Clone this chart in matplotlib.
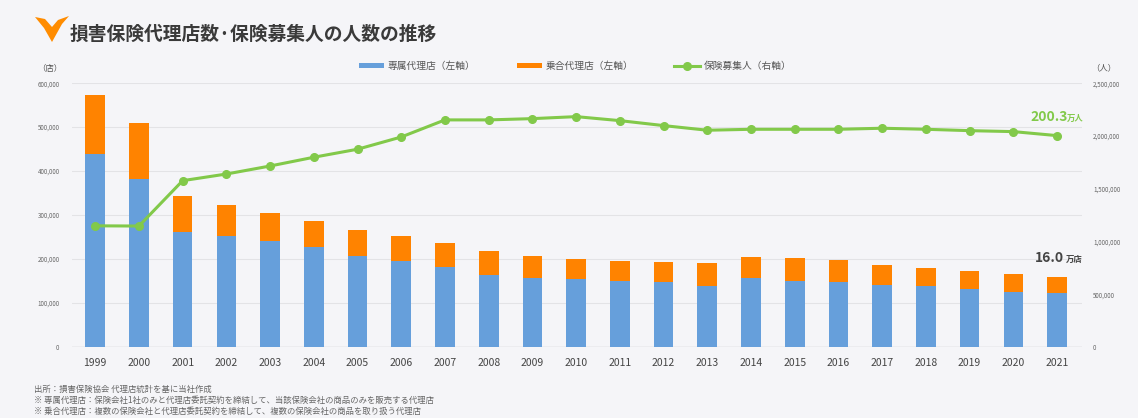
import numpy as np
import matplotlib.pyplot as plt
from matplotlib.patches import Polygon
from matplotlib.ticker import FuncFormatter

plt.rcParams['font.family'] = ['Noto Sans CJK JP', 'DejaVu Sans']

years = ['1999', '2000', '2001', '2002', '2003', '2004', '2005', '2006', '2007', '2008', '2009',
         '2010', '2011', '2012', '2013', '2014', '2015', '2016', '2017', '2018', '2019', '2020', '2021']
# 専属代理店 (店)
exclusive = [439000, 382000, 261000, 253000, 241000, 227000, 207000, 195000, 182000, 164000, 157000,
             154000, 150000, 147000, 138000, 156000, 151000, 147000, 142000, 138000, 131000, 125000, 122000]
# 代理店合計 (店)
total = [572000, 510000, 343000, 323000, 305000, 287000, 267000, 252000, 236000, 218000, 208000,
         201000, 196000, 193000, 191000, 204000, 202000, 197000, 187000, 180000, 172000, 165000, 160000]
multi = [t - e for t, e in zip(total, exclusive)]
# 保険募集人 (人)
agents = [1148000, 1146000, 1576000, 1639000, 1715000, 1798000, 1874000, 1990000, 2152000, 2152000, 2164000,
          2183000, 2145000, 2098000, 2054000, 2063000, 2063000, 2063000, 2073000, 2063000, 2050000, 2041000, 2003000]

blue = '#669fdb'
orange = '#ff8300'
green = '#82c94a'
bg = '#f5f5f8'

fig = plt.figure(figsize=(11.38, 4.18), dpi=100, facecolor=bg)
ax = fig.add_axes([0.0633, 0.170, 0.8875, 0.631], facecolor=bg)
x = np.arange(len(years))

ax.bar(x, exclusive, width=0.45, color=blue, label='専属代理店（左軸）', zorder=2)
ax.bar(x, multi, width=0.45, bottom=exclusive, color=orange, label='乗合代理店（左軸）', zorder=2)
ax.set_xlim(-0.53, 22.57)
ax.set_ylim(0, 600000)
ax.set_yticks(np.arange(0, 600001, 100000))
ax.yaxis.set_major_formatter(FuncFormatter(lambda v, p: f'{int(v):,}'))
ax.grid(axis='y', color='#e3e3e6', linewidth=0.8, zorder=0)
ax.axhline(0, color='#cfcfd3', linewidth=1, zorder=1)
ax.set_xticks(x)
ax.set_xticklabels(years, fontsize=7.5, color='#444444')
ax.tick_params(axis='x', length=0, pad=8)
ax.tick_params(axis='y', length=0, labelsize=4.5, labelcolor='#666666', pad=9)
for s in ax.spines.values():
    s.set_visible(False)

ax2 = ax.twinx()
ax2.plot(x, agents, color=green, linewidth=2.2, marker='o', markersize=5.5,
         label='保険募集人（右軸）', zorder=3)
ax2.set_ylim(0, 2500000)
ax2.set_yticks(np.arange(0, 2500001, 500000))
ax2.yaxis.set_major_formatter(FuncFormatter(lambda v, p: f'{int(v):,}'))
ax2.tick_params(axis='y', length=0, labelsize=4.5, labelcolor='#666666', pad=8)
for s in ax2.spines.values():
    s.set_visible(False)

# legend
h1, l1 = ax.get_legend_handles_labels()
h2, l2 = ax2.get_legend_handles_labels()
fig.legend(h1 + h2, l1 + l2, loc='center', bbox_to_anchor=(575 / 1138, 1 - 66 / 418), ncol=3,
           frameon=False, fontsize=7, handlelength=2.6, handleheight=0.35,
           columnspacing=4.2, handletextpad=0.4, labelcolor='#555555')

# axis units
fig.text(50 / 1138, 1 - 68 / 418, '（店）', fontsize=6, color='#555555', ha='center', va='center')
fig.text(1104 / 1138, 1 - 68 / 418, '（人）', fontsize=6, color='#555555', ha='center', va='center')

# end labels
fig.text(1030 / 1138, 1 - 117 / 418, '200.3', fontsize=10, color=green, fontweight='bold',
         ha='left', va='center')
fig.text(1067 / 1138, 1 - 118 / 418, '万人', fontsize=6, color=green, fontweight='bold',
         ha='left', va='center')
fig.text(1035 / 1138, 1 - 258 / 418, '16.0', fontsize=10, color='#444444', fontweight='bold',
         ha='left', va='center')
fig.text(1066 / 1138, 1 - 259 / 418, '万店', fontsize=6, color='#444444', fontweight='bold',
         ha='left', va='center')

# title and logo
fig.text(70 / 1138, 1 - 34 / 418, '損害保険代理店数·保険募集人の人数の推移', fontsize=13.5,
         fontweight='bold', color='#3a3a3a', ha='left', va='center')
logo = [(35, 17), (45, 19), (52, 27), (58, 20), (69, 16), (62, 24), (52, 42), (44, 28)]
fig.patches.append(Polygon([(px / 1138, 1 - py / 418) for px, py in logo], closed=True,
                           transform=fig.transFigure, facecolor='#ff8c00', edgecolor='none'))

# notes
notes = ['出所：損害保険協会 代理店統計を基に当社作成',
         '※ 専属代理店：保険会社1社のみと代理店委託契約を締結して、当該保険会社の商品のみを販売する代理店',
         '※ 乗合代理店：複数の保険会社と代理店委託契約を締結して、複数の保険会社の商品を取り扱う代理店']
for i, n in enumerate(notes):
    fig.text(34 / 1138, 1 - (389 + 11 * i) / 418, n, fontsize=6, color='#666666',
             ha='left', va='center')

fig.savefig('out.png', dpi=100, facecolor=bg)
